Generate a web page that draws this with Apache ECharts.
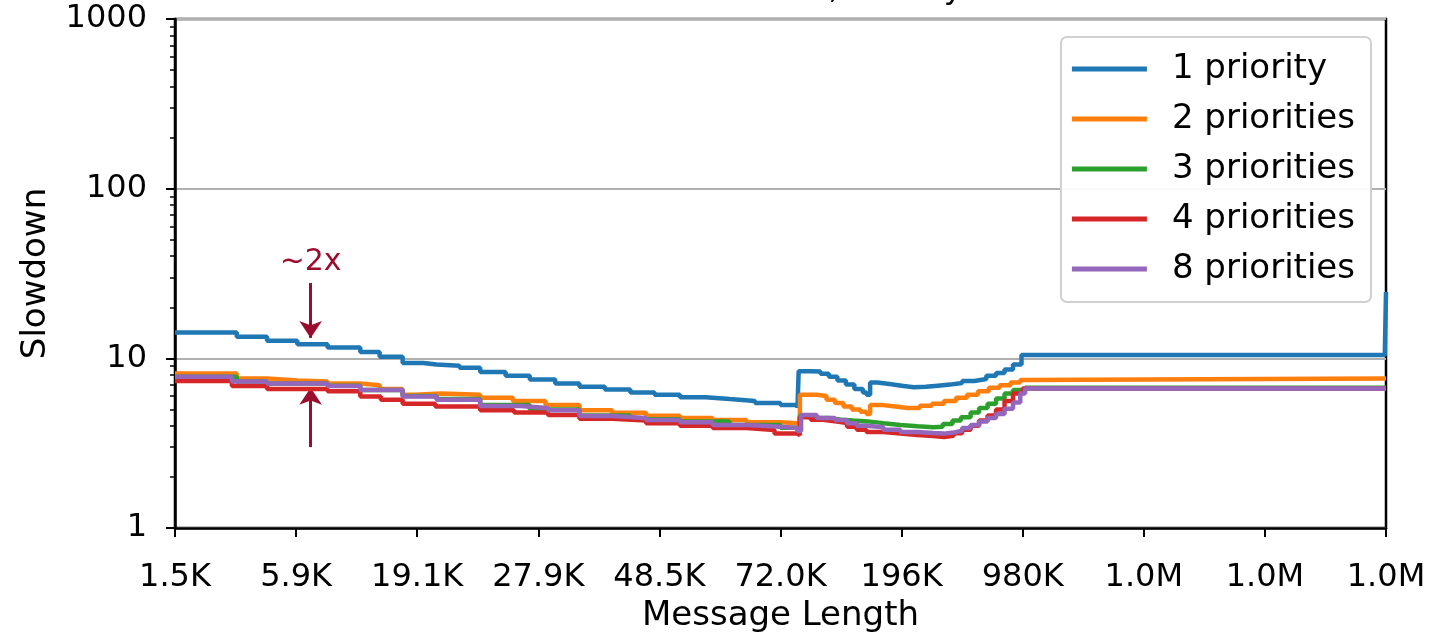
<!DOCTYPE html>
<html><head><meta charset="utf-8">
<script src="https://cdn.jsdelivr.net/npm/echarts@6/dist/echarts.min.js"></script>
<style>html,body{margin:0;padding:0;background:#fff}#c{width:1434px;height:632px}</style>
</head><body><div id="c"></div>
<script>
// x positions are percentiles of message length (0..100), labelled by tickLabels
const tickLabels = ['1.5K','5.9K','19.1K','27.9K','48.5K','72.0K','196K','980K','1.0M','1.0M','1.0M'];
const seriesNames = ['1 priority','2 priorities','3 priorities','4 priorities','8 priorities'];
const colors = ['#1f77b4','#ff7f0e','#2ca02c','#d62728','#9467bd'];

const prio1 = [[0,14.2],[5.1,13.4],[7.6,12.7],[10.1,12.1],[12.6,11.6],[15.3,10.9],[16.9,10.2],[18.8,9.4],[20.5,9.2],[21.6,9.05],[23.5,8.8],[25.2,8.3],[27.3,7.9],[29.3,7.5],[31.4,7.1],[33.4,6.8],[35.5,6.55],[37.6,6.3],[39.6,6.1],[41.7,5.9],[43.8,5.75],[45.8,5.6],[47.9,5.45],[50.0,5.3],[51.4,5.1],[51.5,8.4],[52.5,8.35],[53.3,8.1],[54.0,7.8],[54.7,7.4],[55.4,7.0],[56.1,6.6],[56.8,6.3],[57.1,6.1],[57.4,7.2],[58.0,7.05],[59.0,6.9],[60.0,6.75],[61.0,6.8],[62.0,6.9],[63.0,7.0],[64.0,7.15],[65.0,7.35],[66.0,7.55],[67.0,7.9],[67.8,8.2],[68.5,8.6],[69.2,9.2],[69.9,10.45],[99.9,10.45],[100,24.6]];
const prio2 = [[0,8.15],[5.1,7.6],[7.6,7.4],[10.1,7.3],[12.6,7.1],[15.3,6.95],[16.9,6.6],[18.8,6.1],[19.8,6.2],[22.0,6.1],[25.2,5.85],[27.9,5.6],[30.6,5.3],[33.4,4.95],[36.1,4.78],[38.9,4.58],[41.7,4.45],[44.4,4.33],[47.2,4.2],[50.0,4.15],[51.4,4.05],[51.6,6.1],[53.0,6.0],[53.8,5.7],[54.5,5.45],[55.2,5.2],[55.9,5.0],[56.6,4.85],[57.1,4.7],[57.4,5.3],[58.5,5.2],[59.5,5.1],[60.5,5.1],[61.5,5.25],[62.5,5.4],[63.5,5.6],[64.5,5.85],[65.4,6.1],[66.3,6.4],[67.2,6.7],[68.1,6.95],[69.0,7.2],[69.8,7.45],[70.3,7.6],[100,7.6]];
const prio3 = [[0,7.8],[5.1,7.3],[7.6,7.1],[12.6,6.9],[15.3,6.5],[18.8,6.0],[21.6,5.75],[25.2,5.3],[29.3,5.0],[33.4,4.6],[37.6,4.38],[41.7,4.25],[45.8,4.05],[50.0,3.9],[51.4,3.75],[51.6,4.6],[52.8,4.45],[54.0,4.35],[55.0,4.3],[56.0,4.25],[57.2,4.15],[58.5,4.05],[59.9,3.98],[61.3,3.93],[62.6,3.95],[63.4,4.1],[64.2,4.3],[64.9,4.5],[65.7,4.8],[66.4,5.1],[67.1,5.4],[67.8,5.8],[68.5,6.2],[69.2,6.5],[70.2,6.7],[100,6.7]];
const prio4 = [[0,7.35],[4.7,6.87],[7.6,6.6],[12.6,6.4],[15.3,5.95],[17.0,5.7],[18.8,5.4],[21.5,5.2],[25.2,4.95],[28.0,4.8],[30.8,4.63],[33.4,4.4],[36.1,4.3],[38.9,4.15],[41.7,4.0],[44.4,3.88],[47.2,3.78],[49.5,3.6],[51.4,3.53],[51.6,4.5],[52.5,4.35],[53.5,4.25],[54.5,4.15],[55.5,3.95],[56.3,3.8],[57.1,3.68],[58.5,3.6],[59.9,3.53],[61.3,3.48],[62.6,3.44],[63.5,3.5],[64.3,3.62],[65.0,3.8],[65.7,4.0],[66.4,4.3],[67.1,4.6],[67.8,5.0],[68.5,5.6],[69.2,6.2],[70.0,6.65],[100,6.65]];
const prio8 = [[0,7.8],[4.7,7.3],[7.6,7.1],[12.6,6.87],[15.3,6.5],[18.8,5.95],[21.6,5.7],[25.2,5.24],[28.5,5.1],[30.8,4.95],[33.4,4.57],[36.1,4.45],[38.9,4.33],[41.7,4.2],[44.4,4.05],[47.2,3.95],[50.0,3.88],[51.4,3.73],[51.7,4.63],[53.0,4.45],[54.5,4.33],[55.5,4.15],[56.3,4.0],[57.1,3.93],[58.5,3.8],[59.9,3.68],[61.3,3.63],[62.6,3.6],[63.5,3.65],[64.3,3.75],[65.0,3.88],[65.7,4.05],[66.4,4.25],[67.1,4.45],[67.8,4.7],[68.5,5.05],[69.2,5.5],[69.8,6.2],[70.2,6.65],[100,6.65]];

// annotation ("~2x" with arrows), in data coordinates
const annotX = 11.2;
const arrowDown = [27.8, 13.2];
const arrowUp = [3.0, 6.7];
const annotTextY = 37;
const annotText = '~2x';
const titleText = 'W3: 80% Load, Priority';

const allData = [prio1, prio2, prio3, prio4, prio8];
const FONT = 'DejaVu Sans';
const annotColor = '#9b0d2d';

const series = allData.map((d, i) => ({
  name: seriesNames[i],
  type: 'line',
  step: 'end',
  data: d,
  showSymbol: false,
  symbol: 'none',
  lineStyle: { width: 4.5, color: colors[i] },
  itemStyle: { color: colors[i] },
  z: 2 + i,
  animation: false
}));
series[4].markLine = {
  silent: true, animation: false,
  symbol: ['none', 'arrow'], symbolSize: 17,
  lineStyle: { color: annotColor, width: 3, type: 'solid' },
  label: { show: false },
  data: [
    [{ coord: [annotX, arrowDown[0]] }, { coord: [annotX, arrowDown[1]] }],
    [{ coord: [annotX, arrowUp[0]] }, { coord: [annotX, arrowUp[1]] }]
  ]
};
series[4].markPoint = {
  silent: true, animation: false,
  symbol: 'rect', symbolSize: 0,
  label: { show: true, position: 'inside', formatter: annotText, color: annotColor, fontSize: 30, fontFamily: FONT },
  data: [{ coord: [annotX, annotTextY] }]
};

const chart = echarts.init(document.getElementById('c'), null, { renderer: 'canvas' });
chart.setOption({
  animation: false,
  backgroundColor: '#fff',
  textStyle: { fontFamily: FONT },
  graphic: [{
    type: 'text', x: 780, y: 6, silent: true,
    style: { text: titleText, fontSize: 32, fontFamily: FONT, fill: '#000', align: 'center', verticalAlign: 'bottom' }
  }],
  grid: { left: 175, right: 48, top: 19, bottom: 104, show: true, borderColor: '#000', borderWidth: 2.5, backgroundColor: 'transparent', containLabel: false, outerBoundsMode: 'none' },
  legend: {
    orient: 'vertical', right: 63, top: 37, align: 'left',
    icon: 'rect', itemWidth: 75, itemHeight: 5, itemGap: 16,
    padding: [15, 16, 16, 11],
    backgroundColor: 'rgba(255,255,255,0.92)',
    borderColor: '#d0d0d0', borderWidth: 2, borderRadius: 6,
    textStyle: { fontSize: 34, fontFamily: FONT, color: '#000', lineHeight: 34, padding: [0, 0, 0, 20] },
    data: seriesNames
  },
  xAxis: {
    type: 'value', min: 0, max: 100, interval: 10,
    name: 'Message Length', nameLocation: 'middle', nameGap: 66,
    nameTextStyle: { fontSize: 34, fontFamily: FONT, color: '#000' },
    axisLine: { show: true, lineStyle: { color: '#000', width: 2.5 } },
    axisTick: { show: true, length: 9, lineStyle: { color: '#000', width: 2 } },
    axisLabel: { fontSize: 32, fontFamily: FONT, color: '#000', margin: 34, showMinLabel: true, showMaxLabel: true,
      formatter: v => tickLabels[Math.round(v / 10)] },
    splitLine: { show: false }
  },
  yAxis: {
    type: 'log', logBase: 10, min: 1, max: 1000,
    name: 'Slowdown', nameLocation: 'middle', nameGap: 122, nameRotate: 90,
    nameTextStyle: { fontSize: 34, fontFamily: FONT, color: '#000' },
    axisLine: { show: true, lineStyle: { color: '#000', width: 2.5 } },
    axisTick: { show: true, length: 9, lineStyle: { color: '#000', width: 2 } },
    minorTick: { show: true, splitNumber: 9, length: 5, lineStyle: { color: '#000', width: 1.5 } },
    axisLabel: { fontSize: 32, fontFamily: FONT, color: '#000', margin: 28, formatter: v => String(Math.round(v)) },
    splitLine: { show: true, lineStyle: { color: '#b0b0b0', width: 2 } },
    minorSplitLine: { show: false }
  },
  series: series
});
</script></body></html>
